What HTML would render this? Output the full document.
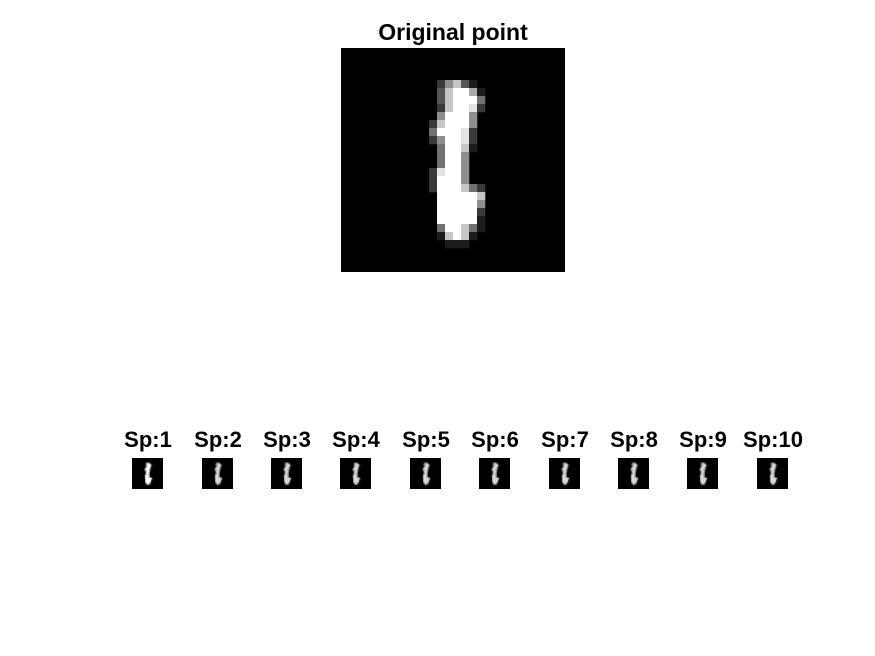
<!DOCTYPE html>
<html><head><meta charset="utf-8"><style>
html,body{margin:0;padding:0;background:#fff;width:875px;height:656px;overflow:hidden;font-family:"Liberation Sans",Arial,sans-serif}
.t{position:absolute;font-weight:bold;color:#000;text-align:center;white-space:nowrap}
svg{position:absolute;left:0;top:0}
</style></head><body>
<div class="t" style="left:353px;top:19px;width:200px;font-size:23px">Original point</div>
<svg id="s" width="875" height="656"></svg>
<div id="labels"></div>
<script>
// Intensity map (0-9) of the 28x28 original digit image
const digitRows = [
"0000000000000000000000000000",
"0000000000000000000000000000",
"0000000000000000000000000000",
"0000000000000000000000000000",
"0000000000002573100000000000",
"0000000000003799610000000000",
"0000000000003799940000000000",
"0000000000002799820000000000",
"0000000000005999500000000000",
"0000000000027999500000000000",
"0000000000049998200000000000",
"0000000000025998200000000000",
"0000000000004997100000000000",
"0000000000004995000000000000",
"0000000000004995000000000000",
"0000000000028995000000000000",
"0000000000029995000000000000",
"0000000000029997420000000000",
"0000000000009999970000000000",
"0000000000009999950000000000",
"0000000000009999920000000000",
"0000000000009999910000000000",
"0000000000004997410000000000",
"0000000000001797100000000000",
"0000000000000111000000000000",
"0000000000000000000000000000",
"0000000000000000000000000000",
"0000000000000000000000000000"];
const spLabels = ["Sp:1","Sp:2","Sp:3","Sp:4","Sp:5","Sp:6","Sp:7","Sp:8","Sp:9","Sp:10"];
const spCenters = [148,218,287,356,426,495,565,634,703,773];
const NS="http://www.w3.org/2000/svg";
const svg=document.getElementById('s');
function drawDigit(x0,y0,size,name,blur){
  const g=document.createElementNS(NS,'g');
  
  
  const bg=document.createElementNS(NS,'rect');
  bg.setAttribute('x',x0);bg.setAttribute('y',y0);bg.setAttribute('width',size);bg.setAttribute('height',size);bg.setAttribute('fill','#000');
  
  
  g.appendChild(bg);
  const c=size/28;
  digitRows.forEach((row,r)=>{
    for(let k=0;k<28;k++){
      const v=+row[k]; if(!v) continue;
      const p=document.createElementNS(NS,'rect');
      p.setAttribute('x',x0+k*c);p.setAttribute('y',y0+r*c);
      p.setAttribute('width',c+0.3);p.setAttribute('height',c+0.3);
      const l=Math.round(255*v/9*blur);
      p.setAttribute('fill','rgb('+l+','+l+','+l+')');
      
      
      g.appendChild(p);
    }
  });
  svg.appendChild(g);
}
drawDigit(341,48,224,'original-image',1);
const lab=document.getElementById('labels');
spCenters.forEach((cx,i)=>{
  drawDigit(cx-16,458,31,'sample-image-'+(i+1),i===0?1:0.85);
  const d=document.createElement('div');
  d.className='t';
  d.style.left=(cx-40)+'px';d.style.top='427px';d.style.width='80px';d.style.fontSize='22px';
  d.textContent=spLabels[i];
  
  
  lab.appendChild(d);
});
</script>
</body></html>
